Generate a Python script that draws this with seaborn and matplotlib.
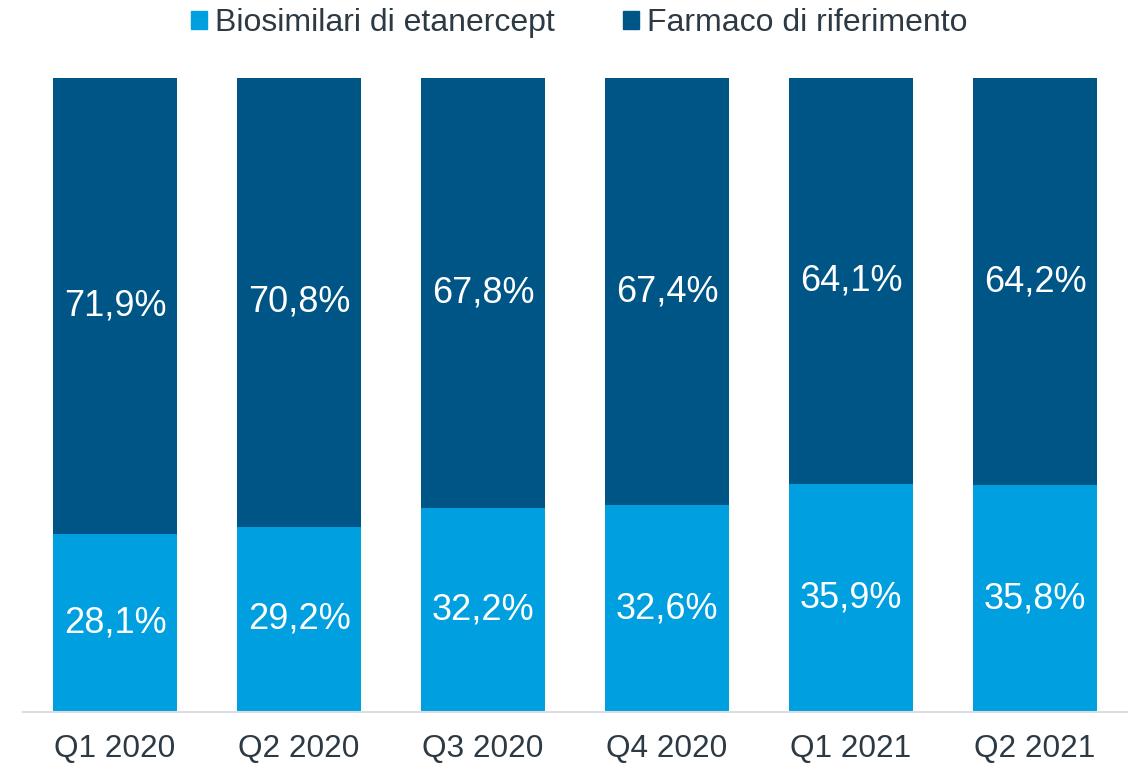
import numpy as np
import pandas as pd
import matplotlib
matplotlib.use("Agg")
import matplotlib.pyplot as plt
import matplotlib.patches as mpatches
import seaborn as sns

QUARTERS = ["Q1 2020", "Q2 2020", "Q3 2020", "Q4 2020", "Q1 2021", "Q2 2021"]
BIOSIMILARI = [28.1, 29.2, 32.2, 32.6, 35.9, 35.8]
RIFERIMENTO = [71.9, 70.8, 67.8, 67.4, 64.1, 64.2]
SERIES = ["Biosimilari di etanercept", "Farmaco di riferimento"]

LIGHT = "#009FDF"
DARK = "#005587"
TEXT = "#2D3A44"

sns.set_theme(style="white")
plt.rcParams["font.family"] = ["Liberation Sans", "DejaVu Sans"]

df = pd.DataFrame({"Quarter": QUARTERS, "Bio": BIOSIMILARI, "Ref": RIFERIMENTO})
df["Total"] = df["Bio"] + df["Ref"]

fig = plt.figure(figsize=(11.32, 7.66), dpi=100)
ax = fig.add_axes([23 / 1132, 1 - 712 / 766, 1104 / 1132, 634 / 766])

# stacked: full-height dark bar, light bar drawn over the bottom part
sns.barplot(data=df, x="Quarter", y="Total", color=DARK, saturation=1,
            width=0.674, ax=ax, linewidth=0)
sns.barplot(data=df, x="Quarter", y="Bio", color=LIGHT, saturation=1,
            width=0.674, ax=ax, linewidth=0)

light_bars = ax.containers[1]
ax.bar_label(light_bars, labels=[f"{v:.1f}".replace(".", ",") + "%" for v in BIOSIMILARI],
             label_type="center", color="white", fontsize=26)
for i, (b, r) in enumerate(zip(BIOSIMILARI, RIFERIMENTO)):
    ax.text(i, b + r / 2, f"{r:.1f}".replace(".", ",") + "%", ha="center", va="center",
            color="white", fontsize=26)

ax.set_ylim(0, 100)
ax.set_xlim(-0.5, len(QUARTERS) - 0.5)
ax.set_xlabel("")
ax.set_ylabel("")
ax.set_yticks([])
for s in ["top", "right", "left"]:
    ax.spines[s].set_visible(False)
ax.spines["bottom"].set_color("#D9DEE2")
ax.spines["bottom"].set_linewidth(1.5)
ax.tick_params(axis="x", length=0, pad=15.5, labelsize=22.7, labelcolor=TEXT)

handles = [mpatches.Patch(color=LIGHT, label=SERIES[0]),
           mpatches.Patch(color=DARK, label=SERIES[1])]
fig.legend(handles=handles, loc="center", bbox_to_anchor=(0.5 + 13 / 1132, 1 - 23 / 766), ncol=2,
           frameon=False, fontsize=23, handlelength=0.5, handleheight=0.5,
           handletextpad=0.25, columnspacing=2.15, labelcolor=TEXT)

fig.savefig("out.png", dpi=100)
